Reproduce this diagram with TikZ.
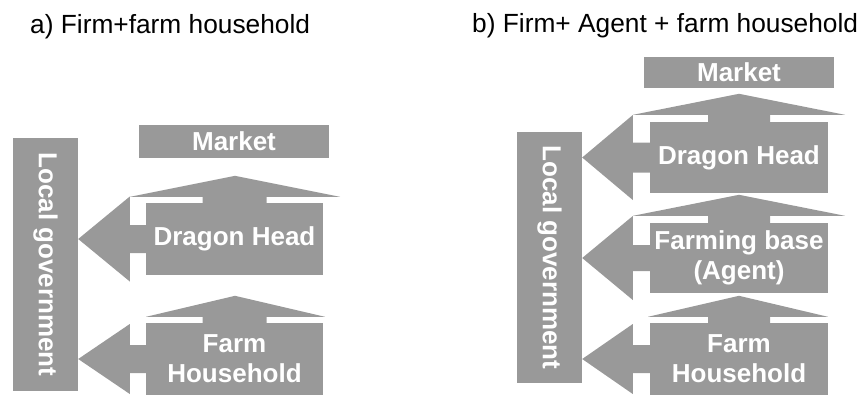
\documentclass[tikz,border=0pt]{standalone}
\usepackage{fontspec}
\setmainfont{Liberation Sans}
\usepackage{xcolor}
\usetikzlibrary{calc}
\definecolor{boxgrey}{HTML}{999999}

\begin{document}
\begin{tikzpicture}[x=1pt,y=-1pt,
        blk/.style={fill=boxgrey, text=white, inner sep=0pt, align=center,
            font=\bfseries\fontsize{26}{30}\selectfont},
        arr/.style={fill=boxgrey},
        ttl/.style={anchor=base west, inner sep=0pt,
            font=\fontsize{26.3}{30}\selectfont}]
        \useasboundingbox (0,0) rectangle (865,394);

        % titles
        \node[ttl] (titleA) at (30,33) {a) Firm+farm household};
        \node[ttl] (titleB) at (472,32) {b) Firm+ Agent + farm household};

        %% a) firm + farm household
        \node[blk, rotate=-90, minimum width=253pt, minimum height=65pt] (govA) at (45.5,264.5) {Local government};
        \node[blk, minimum width=190pt, minimum height=33pt] (marketA) at (234,141.5) {Market};
        \node[blk, minimum width=177pt, minimum height=72pt] (dragA) at (234.5,239) {Dragon Head};
        \node[blk, minimum width=177pt, minimum height=72pt] (farmA) at (234.5,359) {Farm\\Household};

        % Dragon Head -> Market
        \fill[arr] ($(dragA.north)+(-32,0)$) -- ($(dragA.north)+(-32,-6)$) -- ($(dragA.north)+(-104.5,-6)$)
            -- ($(dragA.north)+(0.5,-27)$) -- ($(dragA.north)+(105.5,-6)$)
            -- ($(dragA.north)+(32,-6)$) -- ($(dragA.north)+(32,0)$) -- cycle;
        % Dragon Head -> Local government
        \fill[arr] ($(dragA.west)+(0,-14)$) -- ($(dragA.west)+(-16,-14)$) -- ($(dragA.west)+(-16,-42.5)$)
            -- (govA.north |- dragA.west) -- ($(dragA.west)+(-16,42.5)$)
            -- ($(dragA.west)+(-16,14)$) -- ($(dragA.west)+(0,14)$) -- cycle;

        % Farm Household -> Dragon Head
        \fill[arr] ($(farmA.north)+(-32,0)$) -- ($(farmA.north)+(-32,-6)$) -- ($(farmA.north)+(-88.5,-6)$)
            -- ($(farmA.north)+(0.5,-27)$) -- ($(farmA.north)+(90.5,-6)$)
            -- ($(farmA.north)+(32,-6)$) -- ($(farmA.north)+(32,0)$) -- cycle;
        % Farm Household -> Local government
        \fill[arr] ($(farmA.west)+(0,-14)$) -- ($(farmA.west)+(-16,-14)$) -- ($(farmA.west)+(-16,-35)$)
            -- (govA.north |- farmA.west) -- ($(farmA.west)+(-16,35)$)
            -- ($(farmA.west)+(-16,14)$) -- ($(farmA.west)+(0,14)$) -- cycle;

        %% b) firm + agent + farm household
        \node[blk, rotate=-90, minimum width=251pt, minimum height=65pt] (govB) at (549.5,257.5) {Local government};
        \node[blk, minimum width=190pt, minimum height=31pt] (marketB) at (739,72.5) {Market};
        \node[blk, minimum width=178pt, minimum height=71pt] (dragB) at (739,157.5) {Dragon Head};
        \node[blk, minimum width=178pt, minimum height=70pt] (baseB) at (739,258) {Farming base\\(Agent)};
        \node[blk, minimum width=178pt, minimum height=72pt] (farmB) at (739,359) {Farm\\Household};

        % Dragon Head -> Market
        \fill[arr] ($(dragB.north)+(-31,0)$) -- ($(dragB.north)+(-31,-7)$) -- ($(dragB.north)+(-106,-7)$)
            -- ($(dragB.north)+(0,-28)$) -- ($(dragB.north)+(106,-7)$)
            -- ($(dragB.north)+(31,-7)$) -- ($(dragB.north)+(31,0)$) -- cycle;
        % Dragon Head -> Local government
        \fill[arr] ($(dragB.west)+(0,-15)$) -- ($(dragB.west)+(-17,-15)$) -- ($(dragB.west)+(-17,-42.5)$)
            -- (govB.north |- dragB.west) -- ($(dragB.west)+(-17,42.5)$)
            -- ($(dragB.west)+(-17,15)$) -- ($(dragB.west)+(0,15)$) -- cycle;

        % Farming base -> Dragon Head
        \fill[arr] ($(baseB.north)+(-31,0)$) -- ($(baseB.north)+(-31,-7)$) -- ($(baseB.north)+(-106,-7)$)
            -- ($(baseB.north)+(0,-28)$) -- ($(baseB.north)+(106,-7)$)
            -- ($(baseB.north)+(31,-7)$) -- ($(baseB.north)+(31,0)$) -- cycle;
        % Farming base -> Local government
        \fill[arr] ($(baseB.west)+(0,-13)$) -- ($(baseB.west)+(-17,-13)$) -- ($(baseB.west)+(-17,-42)$)
            -- (govB.north |- baseB.west) -- ($(baseB.west)+(-17,42)$)
            -- ($(baseB.west)+(-17,13)$) -- ($(baseB.west)+(0,13)$) -- cycle;

        % Farm Household -> Farming base
        \fill[arr] ($(farmB.north)+(-31,0)$) -- ($(farmB.north)+(-31,-6)$) -- ($(farmB.north)+(-91,-6)$)
            -- ($(farmB.north)+(0,-27)$) -- ($(farmB.north)+(89,-6)$)
            -- ($(farmB.north)+(31,-6)$) -- ($(farmB.north)+(31,0)$) -- cycle;
        % Farm Household -> Local government
        \fill[arr] ($(farmB.west)+(0,-14)$) -- ($(farmB.west)+(-17,-14)$) -- ($(farmB.west)+(-17,-35)$)
            -- (govB.north |- farmB.west) -- ($(farmB.west)+(-17,35)$)
            -- ($(farmB.west)+(-17,14)$) -- ($(farmB.west)+(0,14)$) -- cycle;
    \end{tikzpicture}
\end{document}
